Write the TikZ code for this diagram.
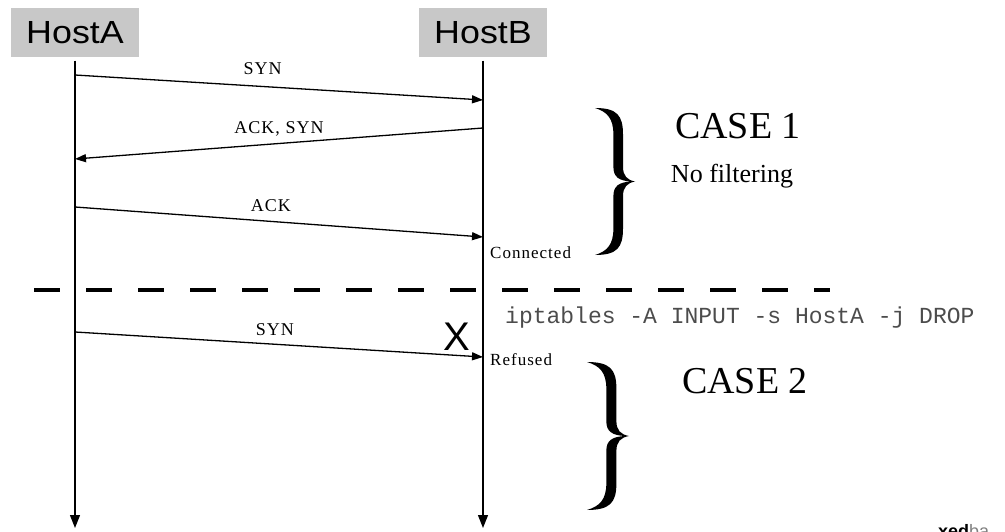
\documentclass[tikz,border=0pt]{standalone}
\usepackage{fontspec}
\setmainfont{Liberation Serif}
\newfontfamily\hostfont[FakeStretch=1.12]{Liberation Sans}
\newfontfamily\xfont{Liberation Sans}
\newfontfamily\msgfont[LetterSpace=6]{Liberation Serif}
\newfontfamily\cmdfont{Liberation Mono}
\usetikzlibrary{arrows.meta}
\definecolor{hostgray}{RGB}{200,200,200}
% curly brace: left x, top y, width, height
\newcommand{\curlybrace}[4]{%
    \begin{scope}[shift={(#1,#2)},xscale=#3,yscale=#4]
        \fill (0,0) .. controls (0.55,0) and (0.7,0.05) .. (0.7,0.18)
            -- (0.7,0.40) .. controls (0.7,0.46) and (0.8,0.49) .. (1,0.5)
            .. controls (0.8,0.51) and (0.7,0.54) .. (0.7,0.60)
            -- (0.7,0.82) .. controls (0.7,0.95) and (0.55,1) .. (0,1)
            .. controls (0.3,0.975) and (0.46,0.93) .. (0.46,0.82)
            -- (0.46,0.60) .. controls (0.46,0.53) and (0.6,0.505) .. (0.9,0.5)
            .. controls (0.6,0.495) and (0.46,0.47) .. (0.46,0.40)
            -- (0.46,0.18) .. controls (0.46,0.07) and (0.3,0.025) .. (0,0) -- cycle;
    \end{scope}}
\begin{document}
\begin{tikzpicture}[x=1pt,y=-1pt,
        host/.style={fill=hostgray,minimum width=128pt,minimum height=49pt,inner sep=0pt,
            font=\hostfont\fontsize{32}{32}\selectfont},
        life/.style={line width=1.4pt,-{Triangle[length=13pt,width=10pt]}},
        msg/.style={line width=1.3pt,-{Triangle[length=11pt,width=8pt]}},
        msglabel/.style={font=\msgfont\fontsize{18}{18}\selectfont,inner sep=0pt},
        state/.style={font=\msgfont\fontsize{17}{17}\selectfont,inner sep=0pt,anchor=west},
        casetext/.style={font=\fontsize{38}{38}\selectfont,inner sep=0pt}]
    \useasboundingbox (0,0) rectangle (1005,532);
    % hosts and their time lines
    \node[host] (hA) at (75,33) {HostA};
    \node[host] (hB) at (483,33) {HostB};
    \coordinate (aEnd) at (75,528);
    \coordinate (bEnd) at (483,528);
    \draw[life] ([yshift=-3pt]hA.south) -- (aEnd);
    \draw[life] ([yshift=-3pt]hB.south) -- (bEnd);
    % case 1: handshake
    \coordinate (a1) at (75,75);   \coordinate (b1) at (483,100);
    \coordinate (b2) at (483,128); \coordinate (a2) at (75,159);
    \coordinate (a3) at (75,207);  \coordinate (b3) at (483,237);
    \draw[msg] (a1) -- node[msglabel,pos=0.46,above=11pt] (syn1) {SYN} (b1);
    \draw[msg] (b2) -- node[msglabel,pos=0.5,above=7pt] (acksyn) {ACK, SYN} (a2);
    \draw[msg] (a3) -- node[msglabel,pos=0.48,above=9pt] (ack) {ACK} (b3);
    \node[state] (conn) at (490,253) {Connected};
    % separator
    \coordinate (sepL) at (34,290);
    \coordinate (sepR) at (830,290);
    \draw[line width=4.5pt,dash pattern=on 26pt off 26pt] (sepL) -- (sepR);
    % case 2: dropped
    \coordinate (a4) at (75,332);  \coordinate (b4) at (483,357);
    \draw[msg] (a4) -- node[msglabel,pos=0.49,above=8pt] (syn2) {SYN} (b4);
    \node[font=\xfont\fontsize{40}{40}\selectfont,inner sep=0pt] (drop) at (457,337) {X};
    \node[state] (refused) at (490,360) {Refused};
    \node[font=\cmdfont\fontsize{23}{23}\selectfont,text=black!70,inner sep=0pt,anchor=west]
        (rule) at (505,318) {iptables -A INPUT -s HostA -j DROP};
    % braces and captions
    \curlybrace{595}{108}{40}{147}
    \node[casetext] (case1) at (738,126) {CASE 1};
    \node[font=\fontsize{26}{26}\selectfont,inner sep=0pt] (nofilt) at (732,176) {No filtering};
    \curlybrace{587}{362}{42}{148}
    \node[casetext] (case2) at (745,381) {CASE 2};
    \node[font=\xfont\fontsize{18}{18}\selectfont,inner sep=0pt,anchor=base west]
        (mark) at (938,537) {\bfseries xed\mdseries\color{gray}ba};
\end{tikzpicture}
\end{document}
